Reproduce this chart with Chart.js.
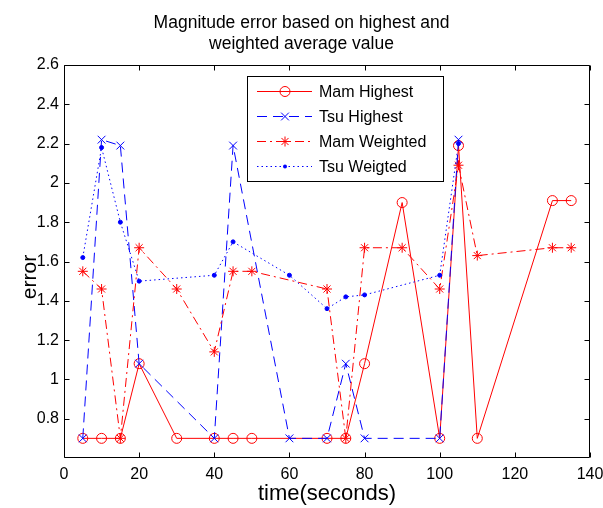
<!DOCTYPE html>
<html><head><meta charset="utf-8">
<script src="https://cdn.jsdelivr.net/npm/chart.js@4"></script>
<style>html,body{margin:0;padding:0;background:#fff;}canvas{display:block;}</style>
</head><body>
<canvas id="c" width="603" height="508"></canvas>
<script>
const titleLines = ['Magnitude error based on highest and', 'weighted average value'];
const xLabel = 'time(seconds)';
const yLabel = 'error';
const seriesNames = ['Mam Highest', 'Tsu Highest', 'Mam Weighted', 'Tsu Weigted'];

const mamHighestTime = [5, 10, 15, 20, 30, 40, 45, 50, 70, 75, 80, 90, 100, 105, 110, 130, 135];
const mamHighestErr  = [0.7, 0.7, 0.7, 1.08, 0.7, 0.7, 0.7, 0.7, 0.7, 0.7, 1.08, 1.9, 0.7, 2.19, 0.7, 1.91, 1.91];
const tsuHighestTime = [5, 10, 15, 20, 40, 45, 60, 70, 75, 80, 100, 105];
const tsuHighestErr  = [0.7, 2.22, 2.19, 1.08, 0.7, 2.19, 0.7, 0.7, 1.08, 0.7, 0.7, 2.22];
const mamWeightedTime = [5, 10, 15, 20, 30, 40, 45, 50, 70, 75, 80, 90, 100, 105, 110, 130, 135];
const mamWeightedErr  = [1.55, 1.46, 0.7, 1.67, 1.46, 1.14, 1.55, 1.55, 1.46, 0.7, 1.67, 1.67, 1.46, 2.09, 1.63, 1.67, 1.67];
const tsuWeightedTime = [5, 10, 15, 20, 40, 45, 60, 70, 75, 80, 100, 105];
const tsuWeightedErr  = [1.62, 2.18, 1.8, 1.5, 1.53, 1.7, 1.53, 1.36, 1.42, 1.43, 1.53, 2.2];

const xTicks = [0, 20, 40, 60, 80, 100, 120, 140];
const yTicks = [0.8, 1, 1.2, 1.4, 1.6, 1.8, 2, 2.2, 2.4, 2.6];

const FONT = "'Liberation Sans', Arial, Helvetica, sans-serif";
const RED = 'rgb(255,0,0)';
const BLUE = 'rgb(0,0,255)';
const NONE = 'rgba(0,0,0,0)';

function pts(ts, vs) { return ts.map((t, i) => ({x: t, y: vs[i]})); }

const styles = [
  {color: RED, dash: [], marker: 'circle', r: 5},
  {color: BLUE, dash: [10, 6], marker: 'crossRot', r: 5.5},
  {color: RED, dash: [9, 4, 2, 4], marker: 'star', r: 5},
  {color: BLUE, dash: [1.5, 3], marker: 'dot', r: 2}
];
const seriesData = [
  pts(mamHighestTime, mamHighestErr),
  pts(tsuHighestTime, tsuHighestErr),
  pts(mamWeightedTime, mamWeightedErr),
  pts(tsuWeightedTime, tsuWeightedErr)
];

const datasets = seriesData.map((d, i) => {
  const s = styles[i];
  const isDot = s.marker === 'dot';
  return {
    label: seriesNames[i],
    data: d,
    borderColor: s.color,
    backgroundColor: NONE,
    borderWidth: 1,
    borderDash: s.dash,
    tension: 0,
    fill: false,
    pointStyle: isDot ? 'circle' : s.marker,
    pointRadius: s.r,
    pointBorderColor: s.color,
    pointBackgroundColor: isDot ? s.color : NONE,
    pointBorderWidth: 1,
    pointHoverRadius: s.r,
    order: 3 - i
  };
});

function drawMarker(ctx, kind, x, y, r, color) {
  ctx.save();
  ctx.setLineDash([]);
  ctx.strokeStyle = color; ctx.fillStyle = color; ctx.lineWidth = 1;
  ctx.beginPath();
  if (kind === 'circle') { ctx.arc(x, y, r, 0, Math.PI * 2); ctx.stroke(); }
  else if (kind === 'dot') { ctx.arc(x, y, r, 0, Math.PI * 2); ctx.fill(); }
  else if (kind === 'crossRot') {
    const o = r * Math.SQRT1_2;
    ctx.moveTo(x - o, y - o); ctx.lineTo(x + o, y + o);
    ctx.moveTo(x - o, y + o); ctx.lineTo(x + o, y - o); ctx.stroke();
  } else if (kind === 'star') {
    const o = r * Math.SQRT1_2;
    ctx.moveTo(x - r, y); ctx.lineTo(x + r, y);
    ctx.moveTo(x, y - r); ctx.lineTo(x, y + r);
    ctx.moveTo(x - o, y - o); ctx.lineTo(x + o, y + o);
    ctx.moveTo(x - o, y + o); ctx.lineTo(x + o, y - o); ctx.stroke();
  }
  ctx.restore();
}

const framePlugin = {
  id: 'frame',
  afterDatasetsDraw(chart) {
    const ctx = chart.ctx;
    const {left, right, top, bottom} = chart.chartArea;
    const xs = chart.scales.x, ys = chart.scales.y;
    ctx.save();
    ctx.strokeStyle = '#000'; ctx.lineWidth = 1; ctx.setLineDash([]);
    ctx.beginPath();
    const L = Math.round(left) + 0.5, R = Math.round(right) - 0.5;
    const T = Math.round(top) + 0.5, B = Math.round(bottom) - 0.5;
    ctx.rect(L, T, R - L, B - T);
    const tl = 5;
    xTicks.forEach(v => {
      const px = Math.round(xs.getPixelForValue(v)) + 0.5;
      ctx.moveTo(px, B); ctx.lineTo(px, B - tl);
      ctx.moveTo(px, T); ctx.lineTo(px, T + tl);
    });
    yTicks.forEach(v => {
      const py = Math.round(ys.getPixelForValue(v)) + 0.5;
      ctx.moveTo(L, py); ctx.lineTo(L + tl, py);
      ctx.moveTo(R, py); ctx.lineTo(R - tl, py);
    });
    ctx.stroke();

    // y-axis label
    ctx.save();
    ctx.translate(30, 277);
    ctx.rotate(-Math.PI / 2);
    ctx.font = '21px ' + FONT;
    ctx.fillStyle = '#000';
    ctx.textAlign = 'center';
    ctx.textBaseline = 'middle';
    ctx.fillText(yLabel, 0, 0);
    ctx.restore();

    // legend box
    const bx = 247.5, by = 76.5, bw = 196, bh = 105;
    ctx.fillStyle = '#fff';
    ctx.fillRect(bx, by, bw, bh);
    ctx.strokeRect(bx, by, bw, bh);
    ctx.font = '16px ' + FONT;
    ctx.textBaseline = 'middle';
    ctx.textAlign = 'left';
    seriesNames.forEach((name, i) => {
      const s = styles[i];
      const yy = 91.5 + 25 * i;
      ctx.save();
      ctx.strokeStyle = s.color; ctx.lineWidth = 1; ctx.setLineDash(s.dash);
      ctx.beginPath(); ctx.moveTo(257, yy); ctx.lineTo(312, yy); ctx.stroke();
      ctx.restore();
      drawMarker(ctx, s.marker, 285, yy, s.r, s.color);
      ctx.fillStyle = '#000';
      ctx.fillText(name, 319, yy + 1);
    });
    ctx.restore();
  }
};

new Chart(document.getElementById('c'), {
  type: 'line',
  data: {datasets},
  plugins: [framePlugin],
  options: {
    responsive: false,
    animation: false,
    devicePixelRatio: 1,
    layout: {padding: {top: 0, right: 0, left: 0, bottom: 0}},
    plugins: {
      legend: {display: false},
      tooltip: {enabled: false},
      title: {
        display: true,
        text: titleLines,
        color: '#000',
        font: {family: FONT, size: 17.5, weight: 'normal', lineHeight: 1.2},
        padding: {top: 12.4, bottom: 10.6}
      }
    },
    scales: {
      x: {
        type: 'linear', min: 0, max: 140,
        ticks: {stepSize: 20, color: '#000', font: {family: FONT, size: 16}, padding: 7, maxRotation: 0, autoSkip: false,
          callback: v => String(v)},
        afterBuildTicks: s => { s.ticks = xTicks.map(v => ({value: v})); },
        grid: {display: false, drawTicks: false},
        border: {display: false},
        title: {display: true, text: xLabel, color: '#000', font: {family: FONT, size: 22}, padding: {top: 0, bottom: 1}},
        afterFit: s => { s.height = 50; s.paddingLeft = 0; s.paddingRight = 0; }
      },
      y: {
        type: 'linear', min: 0.6, max: 2.6,
        ticks: {stepSize: 0.2, color: '#000', font: {family: FONT, size: 16}, padding: 5,
          callback: v => (v < 0.65 ? '' : String(+v.toFixed(1)))},
        afterBuildTicks: s => { s.ticks = [0.6].concat(yTicks).map(v => ({value: v})); },
        grid: {display: false, drawTicks: false},
        border: {display: false},
        title: {display: false},
        afterFit: s => { s.width = 64; s.paddingTop = 0; s.paddingBottom = 0; }
      },
      yRight: {
        type: 'linear', position: 'right', display: true, min: 0.6, max: 2.6,
        ticks: {display: false},
        grid: {display: false, drawTicks: false},
        border: {display: false},
        afterFit: s => { s.width = 13; s.paddingTop = 0; s.paddingBottom = 0; }
      }
    }
  }
});
</script>
</body></html>
